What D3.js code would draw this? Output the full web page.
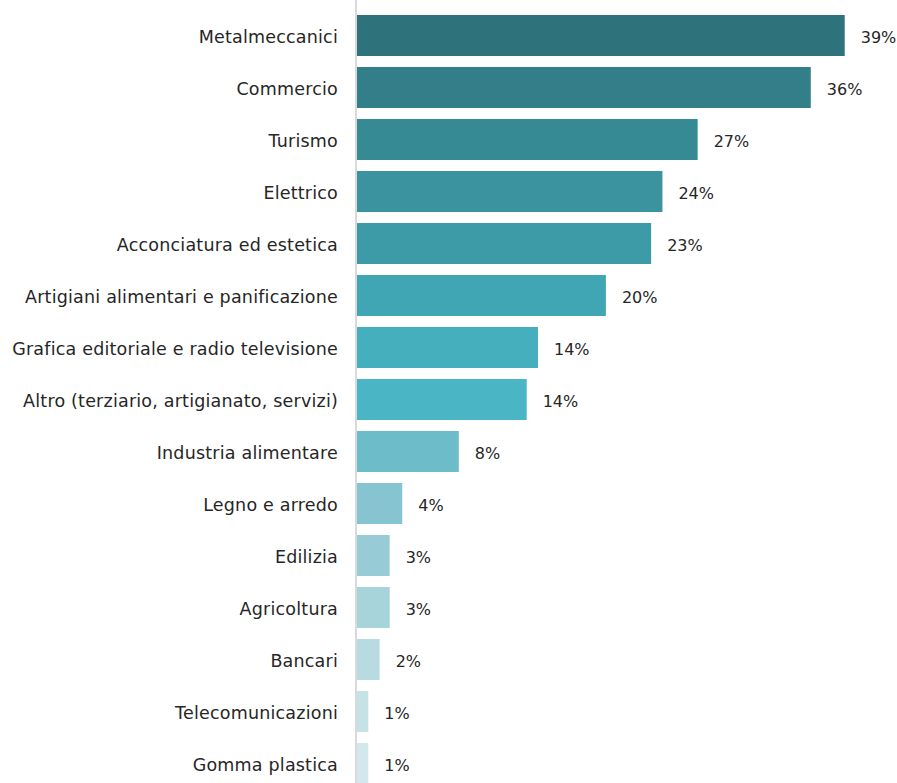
<!DOCTYPE html>
<html>
<head>
<meta charset="utf-8">
<script src="https://cdn.jsdelivr.net/npm/d3@7"></script>
<style>
  html, body { margin: 0; padding: 0; background: #ffffff; }
  svg { display: block; }
  .cat { font-family: "DejaVu Sans", sans-serif; font-size: 17.5px; letter-spacing: 0.2px; fill: #262626; }
  .val { font-family: "DejaVu Sans", sans-serif; font-size: 16px; fill: #262626; }
</style>
</head>
<body>
<svg id="chart" width="897" height="783"></svg>
<script>
const categories = [
  "Metalmeccanici",
  "Commercio",
  "Turismo",
  "Elettrico",
  "Acconciatura ed estetica",
  "Artigiani alimentari e panificazione",
  "Grafica editoriale e radio televisione",
  "Altro (terziario, artigianato, servizi)",
  "Industria alimentare",
  "Legno e arredo",
  "Edilizia",
  "Agricoltura",
  "Bancari",
  "Telecomunicazioni",
  "Gomma plastica"
];
const shares = [38.8, 36.1, 27.1, 24.3, 23.4, 19.8, 14.4, 13.5, 8.1, 3.6, 2.6, 2.6, 1.8, 0.9, 0.9];
const barColors = [
  "#2e737c", "#327f89", "#368a94", "#3a939e", "#3d9ba7", "#41a6b3",
  "#46afbd", "#4ab5c5", "#6cbcca", "#85c4d0", "#97cbd5", "#a7d3db",
  "#b7dbe1", "#c5e2e7", "#d2e8ec"
];

const svg = d3.select("#chart");
const axisX = 357;

const x = d3.scaleLinear().domain([0, 40]).range([axisX, axisX + 502.8]);
const y = d3.scaleBand()
  .domain(categories)
  .range([9.5, 9.5 + 52 * categories.length])
  .paddingInner(11 / 52)
  .paddingOuter(5.5 / 52);

const rows = categories.map((c, i) => ({ cat: c, v: shares[i], color: barColors[i] }));

svg.selectAll("rect.bar")
  .data(rows)
  .join("rect")
  .attr("class", "bar")
  .attr("x", x(0))
  .attr("y", d => y(d.cat))
  .attr("width", d => x(d.v) - x(0))
  .attr("height", y.bandwidth())
  .attr("fill", d => d.color);

// vertical category axis
const yAxis = d3.axisLeft(y).tickSize(0).tickPadding(18);
const gy = svg.append("g").attr("transform", `translate(${axisX - 1},0)`).call(yAxis);
gy.select(".domain").attr("stroke", "#d9d9d9").attr("stroke-width", 2).attr("d", `M0,0V783`);
gy.selectAll("text").attr("class", "cat").attr("font-family", null).attr("font-size", null).attr("dy", "0.42em");

svg.selectAll("text.val")
  .data(rows)
  .join("text")
  .attr("class", "val")
  .attr("x", d => x(d.v) + 16)
  .attr("y", d => y(d.cat) + y.bandwidth() / 2)
  .attr("dy", "0.45em")
  .text(d => Math.round(d.v) + "%");
</script>
</body>
</html>
